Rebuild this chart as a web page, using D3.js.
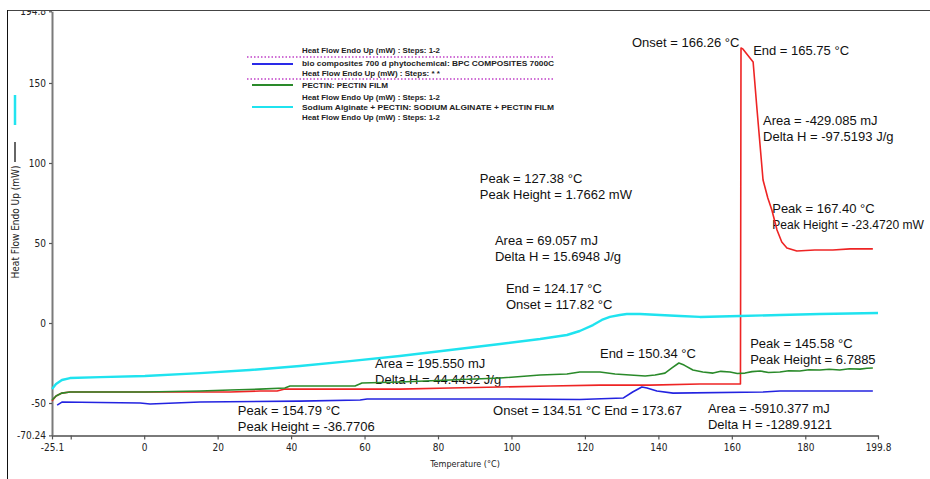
<!DOCTYPE html>
<html>
<head>
<meta charset="utf-8">
<script src="https://cdn.jsdelivr.net/npm/d3@7"></script>
<style>
  html, body { margin: 0; padding: 0; background: #fff; }
  svg { display: block; }
  .tick text { font-family: "Liberation Sans Narrow", "DejaVu Sans Condensed", Arial, sans-serif; font-size: 10px; fill: #222; }
  .note { font-family: "Liberation Sans", Arial, sans-serif; font-size: 13px; fill: #111; }
  .legend-text { font-family: "Liberation Sans", Arial, sans-serif; font-size: 7.5px; font-weight: bold; fill: #222; }
</style>
</head>
<body>
<svg id="chart" width="930" height="479"></svg>
<script>
// DSC thermograms: heat flow (mW, endo up) against temperature (°C)

// [temperature °C, heat flow mW]
const bioCompositeBPC = [
  [-23.7, -51.3], [-22.4, -49.4], [-12.0, -49.7], [-1.1, -50.0], [1.6, -50.6],
  [15.2, -49.4], [42.4, -48.8], [58.8, -48.1], [60.7, -47.5], [96.9, -47.5],
  [118.6, -47.8], [130.4, -46.9], [133.0, -43.1], [135.5, -40.0], [136.9, -40.6],
  [139.6, -42.5], [144.0, -43.8], [168.5, -43.1], [173.1, -42.5], [198.4, -42.5]
];

const pectinFilm = [
  [-25.1, -48.1], [-24.0, -45.6], [-22.4, -43.8], [-20.2, -43.1], [0.2, -43.1],
  [15.2, -42.5], [23.4, -41.9], [31.5, -41.3], [38.3, -40.6], [39.7, -39.4],
  [50.6, -39.4], [57.4, -39.4], [59.3, -37.5], [69.6, -36.9], [83.3, -35.6],
  [96.9, -34.4], [107.8, -32.5], [115.1, -31.9], [118.6, -30.6], [124.1, -30.6],
  [128.2, -31.9], [132.3, -32.5], [136.4, -33.1], [139.1, -32.5], [141.8, -31.3],
  [143.7, -28.1], [145.58, -25.0], [147.0, -26.3], [149.4, -29.4], [152.1, -30.6],
  [154.9, -31.3], [157.0, -30.2], [159.5, -30.6], [161.5, -31.6], [163.6, -31.3],
  [165.5, -30.4], [167.7, -30.0], [170.0, -30.9], [173.1, -30.6], [175.5, -29.8],
  [178.5, -30.0], [181.0, -29.2], [184.0, -29.4], [186.5, -28.9], [189.4, -29.4],
  [192.0, -28.6], [194.9, -28.8], [196.8, -28.3], [198.4, -28.1]
];

const redTrace = [
  [-25.1, -48.8], [-24.0, -45.6], [-22.4, -43.8], [-20.2, -43.1], [0.2, -43.1],
  [23.4, -43.1], [31.5, -42.5], [36.2, -42.5], [38.3, -41.3], [56.0, -41.3],
  [69.6, -41.3], [83.3, -40.6], [96.9, -40.0], [110.5, -39.4], [124.1, -38.8],
  [137.7, -38.8], [151.3, -38.1], [161.4, -38.1], [162.35, -38.1], [162.5, 171.9],
  [163.0, 171.3], [165.8, 163.1], [166.8, 135.0], [168.5, 89.4], [169.8, 78.1],
  [170.9, 70.6], [172.3, 58.1], [173.6, 50.6], [175.0, 46.9], [177.7, 45.0],
  [182.6, 45.6], [187.5, 45.6], [192.2, 46.3], [198.4, 46.3]
];

const sodiumAlginatePectin = [
  [-25.1, -41.3], [-24.0, -38.1], [-22.4, -35.6], [-20.2, -34.4], [-12.0, -33.8],
  [0.2, -33.1], [15.2, -31.3], [28.8, -29.4], [42.4, -26.9], [56.0, -23.8],
  [69.6, -20.6], [83.3, -16.9], [96.9, -13.1], [107.8, -10.0], [115.1, -7.5],
  [118.6, -5.0], [122.2, -1.3], [124.6, 1.9], [126.8, 3.8], [129.5, 5.0],
  [131.4, 5.6], [135.0, 5.6], [140.4, 5.0], [145.9, 4.4], [151.3, 3.8],
  [162.2, 4.4], [173.1, 5.0], [184.0, 5.6], [199.8, 6.3]
];

const xTickValues = [-25.1, -20, 0, 20, 40, 60, 80, 100, 120, 140, 160, 180, 199.8];
const xTickLabels = ["-25.1", "", "0", "20", "40", "60", "80", "100", "120", "140", "160", "180", "199.8"];
const yTickValues = [-70.24, -50, 0, 50, 100, 150, 194.8];
const yTickLabels = ["-70.24", "-50", "0", "50", "100", "150", "194.8"];

const legendLines = [
  "Heat Flow Endo Up (mW) : Steps: 1-2",
  "bio composites 700 d phytochemical: BPC COMPOSITES 7000C",
  "Heat Flow Endo Up (mW) : Steps: * *",
  "PECTIN: PECTIN FILM",
  "Heat Flow Endo Up (mW) : Steps: 1-2",
  "Sodium Alginate + PECTIN: SODIUM ALGINATE + PECTIN FILM",
  "Heat Flow Endo Up (mW) : Steps: 1-2"
];

// analysis results, anchored at [temperature, heat flow]
const analysisNotes = [
  { at: [132.8, 175.6], lines: ["Onset = 166.26 °C"] },
  { at: [165.8, 170.6], lines: ["End = 165.75 °C"] },
  { at: [168.5, 126.9], lines: ["Area = -429.085 mJ", "Delta H = -97.5193 J/g"] },
  { at: [91.4, 90.6], lines: ["Peak = 127.38 °C", "Peak Height = 1.7662 mW"] },
  { at: [95.5, 51.9], lines: ["Area = 69.057 mJ", "Delta H = 15.6948 J/g"] },
  { at: [98.5, 21.9], lines: ["End = 124.17 °C", "Onset = 117.82 °C"] },
  { at: [171.0, 71.9], lines: ["Peak = 167.40 °C", "Peak Height = -23.4720 mW"] },
  { at: [62.85, -25.0], lines: ["Area = 195.550 mJ", "Delta H = 44.4432 J/g"] },
  { at: [25.5, -54.4], lines: ["Peak = 154.79 °C", "Peak Height = -36.7706"] },
  { at: [95.0, -54.4], lines: ["Onset = 134.51 °C End = 173.67"] },
  { at: [124.1, -18.8], lines: ["End = 150.34 °C"] },
  { at: [165.0, -12.5], lines: ["Peak = 145.58 °C", "Peak Height = 6.7885"] },
  { at: [153.5, -53.1], lines: ["Area = -5910.377 mJ", "Delta H = -1289.9121"] }
];

const svg = d3.select("#chart");
const W = 930;

const x = d3.scaleLinear().domain([-25.1, 199.8]).range([52, 878]);
const y = d3.scaleLinear().domain([-70.24, 194.8]).range([435.4, 11.3]);

// analysis text; a line that would run past the right edge gets a smaller size
const notes = svg.append("g");
analysisNotes.forEach(n => {
  const x0 = x(n.at[0]);
  const t = notes.append("text").attr("class", "note").attr("x", x0).attr("y", y(n.at[1]));
  n.lines.forEach((s, i) => {
    const span = t.append("tspan").attr("x", x0)
      .attr("dy", i === 0 ? "0.36em" : "16px").text(s);
    const w = span.node().getComputedTextLength();
    const room = W - 6 - x0;
    if (w > room) {
      span.style("font-size", (13 * room / w).toFixed(2) + "px");
    }
  });
});

// axes
const yAxis = d3.axisLeft(y).tickValues(yTickValues).tickSize(3).tickSizeOuter(0)
  .tickFormat((d, i) => yTickLabels[i]);
const gy = svg.append("g").attr("transform", `translate(${x(-25.1)},0)`).call(yAxis);

const xAxis = d3.axisBottom(x).tickValues(xTickValues).tickSize(4).tickSizeOuter(0)
  .tickFormat((d, i) => xTickLabels[i]);
const gx = svg.append("g").attr("transform", `translate(0,${y(-70.24)})`).call(xAxis);

[gx, gy].forEach(g => {
  g.select(".domain").attr("stroke", "#7a7a7a").attr("stroke-width", 2);
  g.selectAll(".tick line").attr("stroke", "#555").attr("stroke-width", 1.2);
});
gy.selectAll(".tick text").attr("x", -6);
gx.selectAll(".tick text").attr("y", 9);

// axis titles
svg.append("text")
  .attr("x", (x(-25.1) + x(199.8)) / 2).attr("y", 467)
  .attr("text-anchor", "middle")
  .style("font-family", '"Liberation Sans Narrow", "DejaVu Sans Condensed", Arial, sans-serif')
  .style("font-size", "9px").attr("fill", "#222")
  .text("Temperature (°C)");

svg.append("text")
  .attr("transform", "translate(19,222) rotate(-90)")
  .attr("text-anchor", "middle")
  .style("font-family", '"Liberation Sans Narrow", "DejaVu Sans Condensed", Arial, sans-serif')
  .style("font-size", "10px").attr("fill", "#222")
  .text("Heat Flow Endo Up (mW)");

// colour keys beside the y title
svg.append("line").attr("x1", 15).attr("x2", 15).attr("y1", 95).attr("y2", 125)
  .attr("stroke", "#22e4f0").attr("stroke-width", 2.5);
svg.append("line").attr("x1", 15).attr("x2", 15).attr("y1", 142).attr("y2", 162)
  .attr("stroke", "#333").attr("stroke-width", 1.5);

// thermogram traces
const line = d3.line().x(d => x(d[0])).y(d => y(d[1]));
const traces = [
  { data: bioCompositeBPC, color: "#2323e0", width: 1.6 },
  { data: redTrace, color: "#ee2424", width: 1.6 },
  { data: pectinFilm, color: "#2a8a2a", width: 1.6 },
  { data: sodiumAlginatePectin, color: "#1fe3ef", width: 2.4 }
];
svg.append("g").selectAll("path").data(traces).join("path")
  .attr("d", d => line(d.data))
  .attr("fill", "none")
  .attr("stroke", d => d.color)
  .attr("stroke-width", d => d.width)
  .attr("stroke-linejoin", "round");

// legend block
const legend = svg.append("g");
const legendY = [50, 63, 73, 85, 97, 107, 117];
const legendWidth = [138, 252, 138, 86, 138, 252, 138];
legendLines.forEach((s, i) => {
  legend.append("text").attr("class", "legend-text")
    .attr("x", 302).attr("y", legendY[i]).attr("dy", "0.35em")
    .attr("textLength", legendWidth[i]).attr("lengthAdjust", "spacingAndGlyphs")
    .text(s);
});
[57, 79].forEach(yy => {
  legend.append("line").attr("x1", 247).attr("x2", 555).attr("y1", yy).attr("y2", yy)
    .attr("stroke", "#c040c8").attr("stroke-width", 1.3).attr("stroke-dasharray", "1.5,2");
});
[["#2a2ae8", 64], ["#2a8a2a", 85], ["#1fe3ef", 107]].forEach(([c, yy]) => {
  legend.append("line").attr("x1", 252).attr("x2", 293).attr("y1", yy).attr("y2", yy)
    .attr("stroke", c).attr("stroke-width", 2);
});

// frame
svg.append("rect").attr("x", 0).attr("y", 0).attr("width", W).attr("height", 10).attr("fill", "#fff");
svg.append("line").attr("x1", 7).attr("x2", W).attr("y1", 10.5).attr("y2", 10.5)
  .attr("stroke", "#444").attr("stroke-width", 1);
svg.append("line").attr("x1", 7.5).attr("x2", 7.5).attr("y1", 10).attr("y2", 479)
  .attr("stroke", "#111").attr("stroke-width", 1);
</script>
</body>
</html>
